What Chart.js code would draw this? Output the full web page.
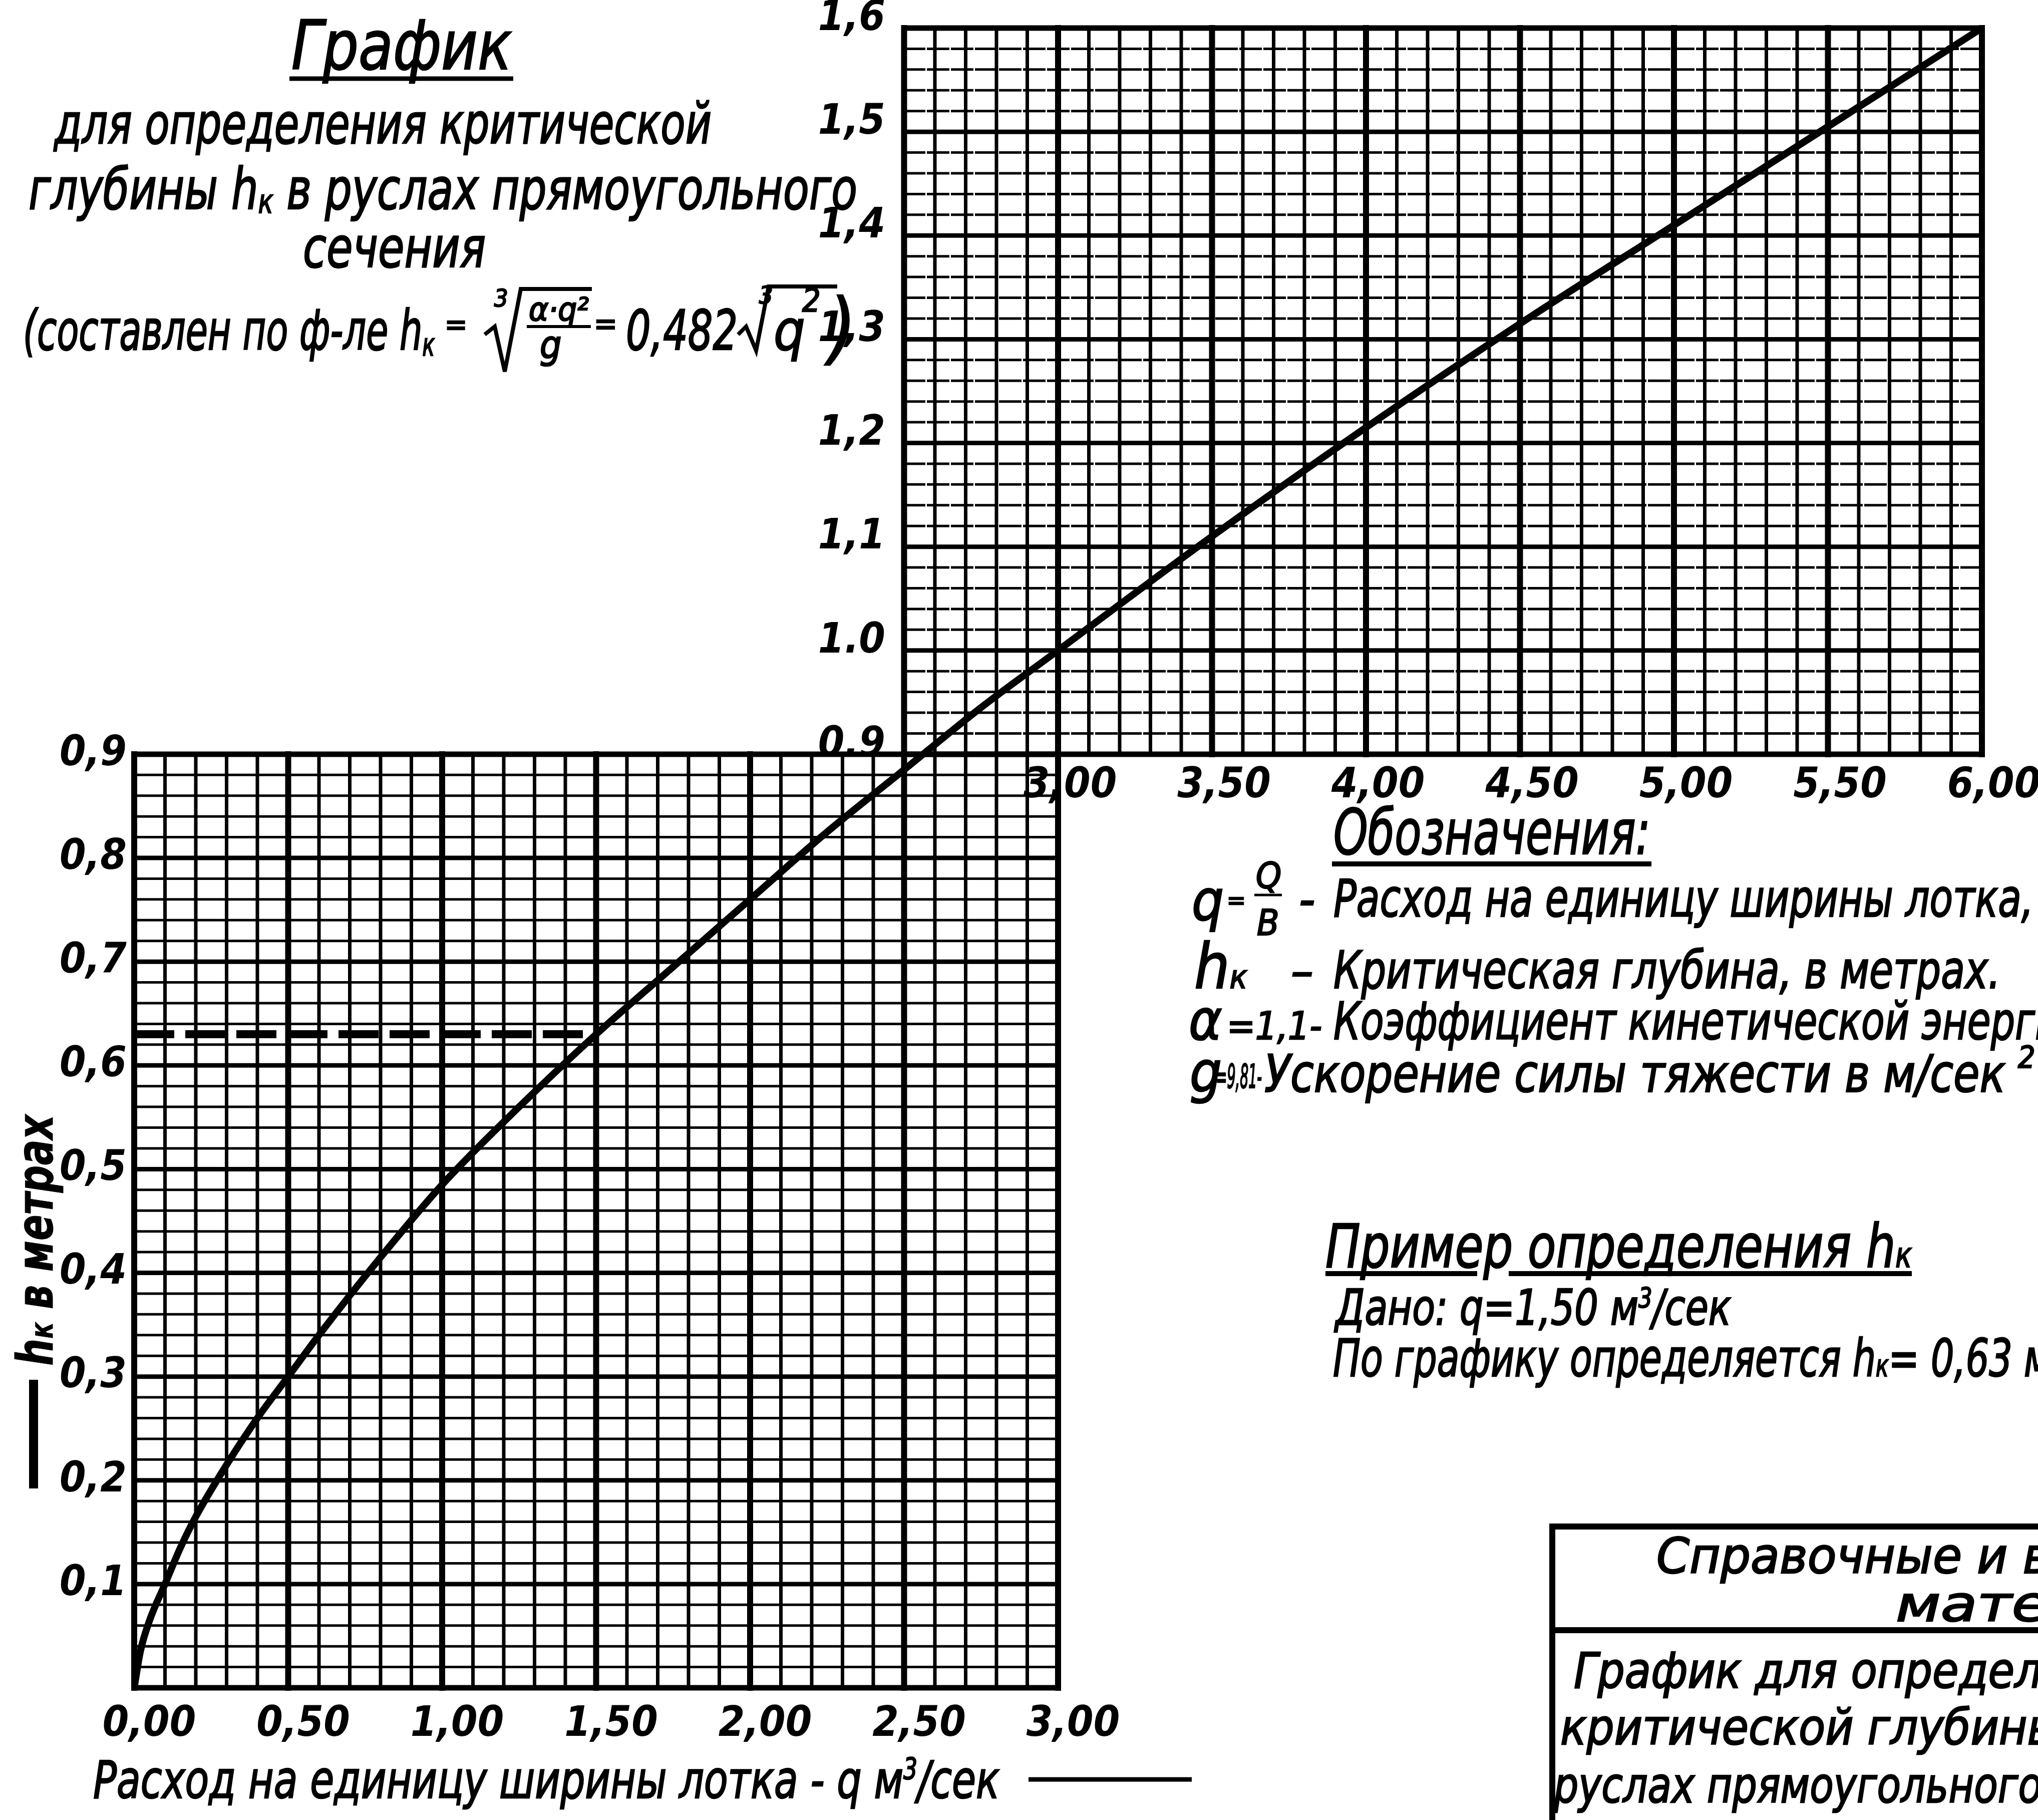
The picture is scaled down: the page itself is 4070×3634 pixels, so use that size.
<!DOCTYPE html>
<html>
<head>
<meta charset="utf-8">
<title>График для определения критической глубины</title>
<script src="https://cdn.jsdelivr.net/npm/chart.js"></script>
<style>
    html, body { margin: 0; padding: 0; background: #fff; overflow: hidden; }
    #wrap { position: relative; width: 4070px; height: 3634px; }
    #wrap canvas { position: absolute; left: 0; top: 0; }
    #notes { position: absolute; left: 0; top: 0; pointer-events: none; }
    #notes text { font-family: 'Liberation Sans Narrow', 'DejaVu Sans Condensed', sans-serif; font-style: italic;
                  fill: #000; stroke: #000; stroke-width: 2.5; }
    #notes .b { font-weight: bold; stroke-width: 1; }
    #notes line, #notes path { stroke: #000; fill: none; }
</style>
</head>
<body>
<div id="wrap">
    <canvas id="myChart" width="4070" height="3634"></canvas>
    <svg id="notes" width="4070" height="3634" xmlns="http://www.w3.org/2000/svg">
        <!-- заголовок -->
        <text x="582" y="138" font-size="136" textLength="440" lengthAdjust="spacingAndGlyphs">График</text>
        <line x1="578" y1="157" x2="1025" y2="157" stroke-width="9"/>
        <text x="108" y="286" font-size="112" textLength="1313" lengthAdjust="spacingAndGlyphs">для определения критической</text>
        <text x="57" y="417" font-size="114" textLength="1655" lengthAdjust="spacingAndGlyphs">глубины h<tspan font-size="66" dy="8">к</tspan><tspan dy="-8"> в руслах прямоугольного</tspan></text>
        <text x="605" y="533" font-size="112" textLength="365" lengthAdjust="spacingAndGlyphs">сечения</text>

        <!-- формула -->
        <text x="46" y="698" font-size="110" textLength="822" lengthAdjust="spacingAndGlyphs">(составлен по ф-ле h<tspan font-size="62" dy="12">к</tspan></text>
        <text x="888" y="668" font-size="60">=</text>
        <path d="M968 668 L988 652 L1008 742 L1040 577 L1182 577" stroke-width="8"/>
        <text x="987" y="612" font-size="48">3</text>
        <text x="1056" y="640" font-size="64" textLength="120" lengthAdjust="spacingAndGlyphs">α·q²</text>
        <line x1="1052" y1="652" x2="1180" y2="652" stroke-width="6"/>
        <text x="1078" y="715" font-size="76">g</text>
        <text x="1186" y="668" font-size="62">=</text>
        <text x="1250" y="698" font-size="110" textLength="223" lengthAdjust="spacingAndGlyphs">0,482</text>
        <path d="M1474 668 L1490 652 L1510 700 L1535 572 L1672 572" stroke-width="8"/>
        <text x="1516" y="606" font-size="48">3</text>
        <text x="1545" y="698" font-size="110">q</text>
        <text x="1602" y="622" font-size="64">2</text>
        <text x="1655" y="708" font-size="156">)</text>

        <!-- обозначения -->
        <text x="2663" y="1705" font-size="124" textLength="633" lengthAdjust="spacingAndGlyphs">Обозначения:</text>
        <line x1="2660" y1="1725" x2="3298" y2="1725" stroke-width="10"/>
        <text x="2380" y="1837" font-size="112">q</text>
        <text x="2450" y="1815" font-size="50">=</text>
        <text x="2508" y="1773" font-size="72">Q</text>
        <line x1="2505" y1="1787" x2="2560" y2="1787" stroke-width="5"/>
        <text x="2510" y="1867" font-size="72">B</text>
        <text x="2594" y="1830" font-size="100">-</text>
        <text x="2663" y="1830" font-size="104" textLength="1398" lengthAdjust="spacingAndGlyphs">Расход на единицу ширины лотка,</text>
        <text x="2385" y="1973" font-size="124">h<tspan font-size="64">к</tspan></text>
        <text x="2578" y="1973" font-size="100">–</text>
        <text x="2663" y="1973" font-size="104" textLength="1332" lengthAdjust="spacingAndGlyphs">Критическая глубина, в метрах.</text>
        <text x="2374" y="2075" font-size="112">α</text>
        <text x="2450" y="2075" font-size="76" textLength="190" lengthAdjust="spacingAndGlyphs">=1,1-</text>
        <text x="2663" y="2075" font-size="104" textLength="1500" lengthAdjust="spacingAndGlyphs">Коэффициент кинетической энергии</text>
        <text x="2376" y="2180" font-size="112">g</text>
        <text x="2428" y="2172" font-size="66" textLength="92" lengthAdjust="spacingAndGlyphs">=9,81-</text>
        <text x="2525" y="2180" font-size="104" textLength="1480" lengthAdjust="spacingAndGlyphs">Ускорение силы тяжести в м/сек</text>
        <text x="4030" y="2132" font-size="60">2</text>

        <!-- пример -->
        <text x="2647" y="2530" font-size="120" textLength="1171" lengthAdjust="spacingAndGlyphs">Пример определения h<tspan font-size="70">к</tspan></text>
        <line x1="2647" y1="2543" x2="2950" y2="2543" stroke-width="10"/>
        <line x1="3013" y1="2543" x2="3818" y2="2543" stroke-width="10"/>
        <text x="2667" y="2645" font-size="98" textLength="790" lengthAdjust="spacingAndGlyphs">Дано: q=1,50 м<tspan dy="-35" font-size="56">3</tspan><tspan dy="35">/сек</tspan></text>
        <text x="2662" y="2748" font-size="104" textLength="1435" lengthAdjust="spacingAndGlyphs">По графику определяется h<tspan font-size="60">к</tspan>= 0,63 м</text>

        <!-- штамп -->
        <line x1="3094" y1="3048" x2="4070" y2="3048" stroke-width="12"/>
        <line x1="3100" y1="3042" x2="3100" y2="3634" stroke-width="12"/>
        <line x1="3094" y1="3255" x2="4070" y2="3255" stroke-width="12"/>
        <text x="3308" y="3141" font-size="98" textLength="1620" lengthAdjust="spacingAndGlyphs">Справочные и вспомогательные</text>
        <text x="3786" y="3237" font-size="98" textLength="700" lengthAdjust="spacingAndGlyphs">материалы</text>
        <text x="3143" y="3370" font-size="98" textLength="1150" lengthAdjust="spacingAndGlyphs">График для определения</text>
        <text x="3116" y="3483" font-size="98" textLength="1080" lengthAdjust="spacingAndGlyphs">критической глубины в</text>
        <text x="3103" y="3599" font-size="98" textLength="975" lengthAdjust="spacingAndGlyphs">руслах прямоугольного</text>

        <!-- подписи осей -->
        <text class="b" transform="translate(105,2727) rotate(-90)" font-size="100" textLength="501" lengthAdjust="spacingAndGlyphs">h<tspan font-size="62">к</tspan> в метрах</text>
        <line x1="67" y1="2755" x2="67" y2="2972" stroke-width="18"/>
        <text x="186" y="3590" font-size="104" textLength="1810" lengthAdjust="spacingAndGlyphs">Расход на единицу ширины лотка - q м<tspan dy="-38" font-size="58">3</tspan><tspan dy="38">/сек</tspan></text>
        <line x1="2054" y1="3553" x2="2380" y2="3553" stroke-width="9"/>
    </svg>
</div>
<script>
    // q in m3/s, hk in m
    const qValues = [0, 0.02, 0.05, 0.1, 0.15, 0.2, 0.3, 0.4, 0.5, 0.6, 0.8, 1.0, 1.25, 1.5, 1.75,
                     2.0, 2.25, 2.5, 2.75, 3.0, 3.5, 4.0, 4.5, 5.0, 5.5, 6.0];
    const hValues = [0, 0.035, 0.065, 0.10, 0.135, 0.165, 0.215, 0.26, 0.30, 0.34, 0.415, 0.485, 0.56, 0.63, 0.695,
                     0.76, 0.825, 0.885, 0.945, 1.00, 1.11, 1.215, 1.315, 1.41, 1.505, 1.60];

    // example reading: q = 1,50 -> hk = 0,63
    const exampleQ = [0, 1.47];
    const exampleH = [0.63, 0.63];

    // tick labels (lower panel and upper panel)
    const xLowerTicks = [0, 0.5, 1, 1.5, 2, 2.5, 3];
    const xLowerLabels = ['0,00', '0,50', '1,00', '1,50', '2,00', '2,50', '3,00'];
    const xUpperTicks = [3, 3.5, 4, 4.5, 5, 5.5, 6];
    const xUpperLabels = ['3,00', '3,50', '4,00', '4,50', '5,00', '5,50', '6,00'];
    const yLowerTicks = [0.1, 0.2, 0.3, 0.4, 0.5, 0.6, 0.7, 0.8, 0.9];
    const yLowerLabels = ['0,1', '0,2', '0,3', '0,4', '0,5', '0,6', '0,7', '0,8', '0,9'];
    const yUpperTicks = [0.9, 1.0, 1.1, 1.2, 1.3, 1.4, 1.5, 1.6];
    const yUpperLabels = ['0.9', '1.0', '1,1', '1,2', '1,3', '1,4', '1,5', '1,6'];

    const tickFont = {
        family: "'Liberation Sans Narrow', 'DejaVu Sans Condensed', sans-serif",
        size: 84, style: 'italic', weight: 'bold'
    };

    // millimetre-paper grid, drawn only inside the two panels
    const paperGrid = {
        id: 'paperGrid',
        beforeDatasetsDraw(chart) {
            const ctx = chart.ctx;
            const x = chart.scales.x, y = chart.scales.y;
            ctx.save();
            ctx.strokeStyle = '#000';
            ctx.lineCap = 'square';

            function panel(x0, x1, y0, y1, dashedMinor) {
                const k0 = Math.round(y0 * 50), k1 = Math.round(y1 * 50);
                for (let k = k0; k <= k1; k++) {
                    const py = y.getPixelForValue(k / 50);
                    const edge = k === k0 || k === k1;
                    const major = k % 5 === 0;
                    ctx.lineWidth = edge ? 11 : major ? 9 : 5;
                    ctx.setLineDash(!edge && !major && dashedMinor ? [40, 8] : []);
                    ctx.beginPath();
                    ctx.moveTo(x.getPixelForValue(x0), py);
                    ctx.lineTo(x.getPixelForValue(x1), py);
                    ctx.stroke();
                }
                ctx.setLineDash([]);
                const j0 = Math.round(x0 * 10), j1 = Math.round(x1 * 10);
                for (let j = j0; j <= j1; j++) {
                    const px = x.getPixelForValue(j / 10);
                    const edge = j === j0 || j === j1;
                    ctx.lineWidth = edge || j % 5 === 0 ? 12 : 7;
                    ctx.beginPath();
                    ctx.moveTo(px, y.getPixelForValue(y0));
                    ctx.lineTo(px, y.getPixelForValue(y1));
                    ctx.stroke();
                }
            }

            panel(0, 3, 0, 0.9, false);
            panel(2.5, 6, 0.9, 1.6, true);
            ctx.restore();
        }
    };

    function tickSetter(values) {
        return function(scale) {
            scale.ticks = values.map(v => ({value: v}));
        };
    }

    var ctx = document.getElementById('myChart').getContext('2d');
    var myChart = new Chart(ctx, {
        type: 'line',
        data: {
            datasets: [{
                label: 'hк',
                data: qValues.map((q, i) => ({x: q, y: hValues[i]})),
                borderColor: '#000',
                borderWidth: 14,
                pointRadius: 0,
                cubicInterpolationMode: 'monotone',
                fill: false
            }, {
                label: 'пример',
                data: exampleQ.map((q, i) => ({x: q, y: exampleH[i]})),
                borderColor: '#000',
                borderWidth: 16,
                borderDash: [80, 22],
                pointRadius: 0,
                fill: false
            }]
        },
        options: {
            responsive: false,
            animation: false,
            devicePixelRatio: 1,
            layout: {padding: {left: 268, right: 112, top: 56, bottom: 264}},
            plugins: {legend: {display: false}, tooltip: {enabled: false}},
            scales: {
                x: {
                    type: 'linear', min: 0, max: 6, position: {y: 0},
                    grid: {display: false, drawTicks: false}, border: {display: false},
                    afterBuildTicks: tickSetter(xLowerTicks),
                    ticks: {
                        autoSkip: false, maxRotation: 0, padding: 24, labelOffset: 30,
                        color: '#000', font: tickFont,
                        callback: (v, i) => xLowerLabels[i]
                    }
                },
                x2: {
                    type: 'linear', axis: 'x', min: 0, max: 6, position: {y: 0.9},
                    grid: {display: false, drawTicks: false}, border: {display: false},
                    afterBuildTicks: tickSetter(xUpperTicks),
                    ticks: {
                        autoSkip: false, maxRotation: 0, padding: 14, labelOffset: 24,
                        color: '#000', font: tickFont,
                        callback: (v, i) => xUpperLabels[i]
                    }
                },
                y: {
                    type: 'linear', min: 0, max: 1.6, position: {x: 0},
                    grid: {display: false, drawTicks: false}, border: {display: false},
                    afterBuildTicks: tickSetter(yLowerTicks),
                    ticks: {
                        autoSkip: false, color: '#000', font: tickFont,
                        callback: (v, i) => yLowerLabels[i] + '\u2009'
                    }
                },
                y2: {
                    type: 'linear', axis: 'y', min: 0, max: 1.6, position: {x: 2.5},
                    grid: {display: false, drawTicks: false}, border: {display: false},
                    afterBuildTicks: tickSetter(yUpperTicks),
                    ticks: {
                        autoSkip: false, labelOffset: -18, color: '#000', font: tickFont,
                        callback: (v, i) => yUpperLabels[i] + '\u2002'
                    }
                }
            }
        },
        plugins: [paperGrid]
    });
</script>
</body>
</html>
